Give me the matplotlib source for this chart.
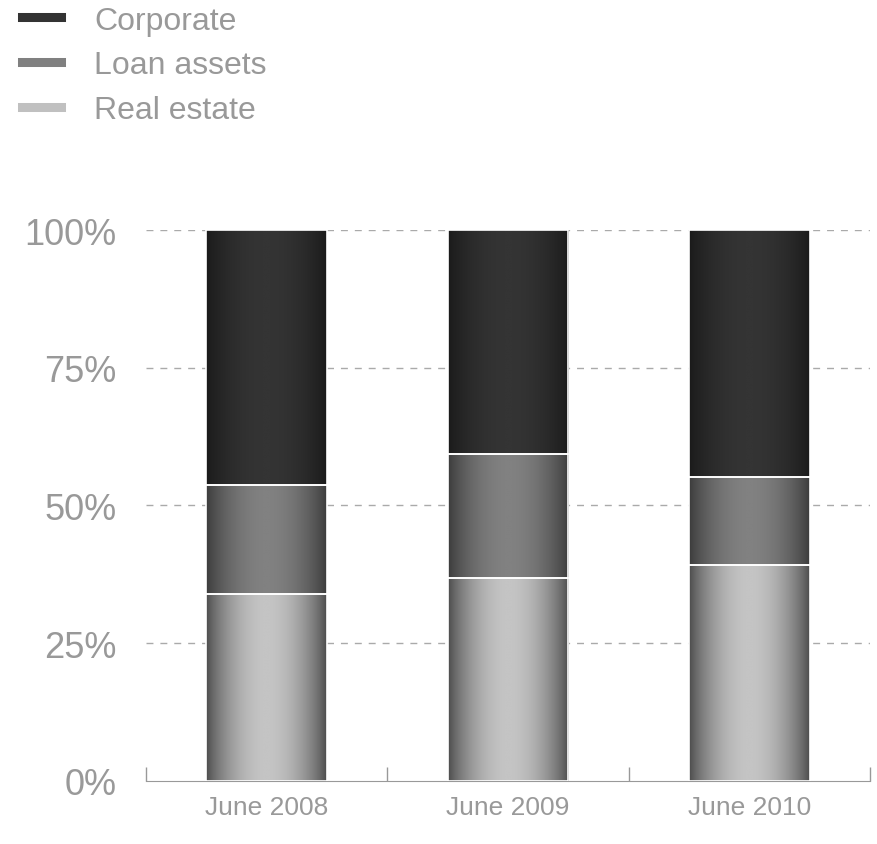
import numpy as np
import matplotlib.pyplot as plt
from matplotlib.colors import LinearSegmentedColormap
from matplotlib.lines import Line2D

plt.rcParams['font.family'] = ['Liberation Sans', 'DejaVu Sans']

# portfolio split by period (percent of total)
periods = ['June 2008', 'June 2009', 'June 2010']
real_estate = [34.0, 36.8, 39.2]
loan_assets = [19.8, 22.6, 16.0]
corporate = [46.2, 40.6, 44.8]

series = ['Real estate', 'Loan assets', 'Corporate']
values = [real_estate, loan_assets, corporate]
# (edge colour, centre colour) for the cylinder shading
shades = {
    'Real estate': ('#4a4a4a', '#c4c4c4'),
    'Loan assets': ('#3a3a3a', '#818181'),
    'Corporate': ('#1a1a1a', '#343434'),
}
legend_colors = {'Corporate': '#333333', 'Loan assets': '#808080', 'Real estate': '#c0c0c0'}

txt = '#999999'

fig = plt.figure(figsize=(8.78, 8.45), dpi=100)
ax = fig.add_axes([0.1663, 0.0746, 0.8246, 0.652])

x = np.arange(len(periods))
width = 0.5

# horizontal shading profile: dark edges, light middle
u = np.linspace(0, 1, 256)
profile = np.sin(np.pi * u) ** 0.8
profile = profile[np.newaxis, :]

bottom = np.zeros(len(periods))
for name, vals in zip(series, values):
    bars = ax.bar(x, vals, width, bottom=bottom, facecolor='none',
                  edgecolor='white', linewidth=1.2, zorder=3)
    cmap = LinearSegmentedColormap.from_list(name, shades[name])
    for rect in bars:
        x0, y0 = rect.get_x(), rect.get_y()
        w, h = rect.get_width(), rect.get_height()
        im = ax.imshow(profile, cmap=cmap, vmin=0, vmax=1, aspect='auto',
                       extent=[x0, x0 + w, y0, y0 + h], zorder=2,
                       interpolation='bilinear')
        im.set_clip_path(rect)
    bottom += np.array(vals)

ax.set_xlim(-0.5, 2.5)
ax.set_ylim(0, 100)

# dashed reference lines
for yv in [25, 50, 75, 100]:
    ax.axhline(yv, color='#aaaaaa', linewidth=1, linestyle=(0, (5, 5)), zorder=1)

ax.set_yticks([0, 25, 50, 75, 100])
ax.set_yticklabels(['0%', '25%', '50%', '75%', '100%'])
ax.tick_params(axis='y', length=0, pad=21, labelsize=26, labelcolor=txt)

ax.set_xticks(x)
ax.set_xticklabels(periods)
ax.tick_params(axis='x', which='major', length=0, pad=10, labelsize=19, labelcolor=txt)
ax.set_xticks([-0.5, 0.5, 1.5, 2.5], minor=True)
ax.tick_params(axis='x', which='minor', direction='in', length=10, color='#999999', width=1)

for side in ['left', 'right', 'top']:
    ax.spines[side].set_visible(False)
ax.spines['bottom'].set_color('#999999')

names = ['Corporate', 'Loan assets', 'Real estate']
handles = [Line2D([0], [0], color=legend_colors[n], linewidth=6.5) for n in names]
leg = fig.legend(handles, names, loc='upper left',
                 bbox_to_anchor=(0.0068, 1.011), frameon=False, fontsize=23,
                 borderpad=0, handlelength=1.23, handletextpad=1.03, labelspacing=0.46)
for t in leg.get_texts():
    t.set_color(txt)

fig.savefig('out.png', dpi=100)
